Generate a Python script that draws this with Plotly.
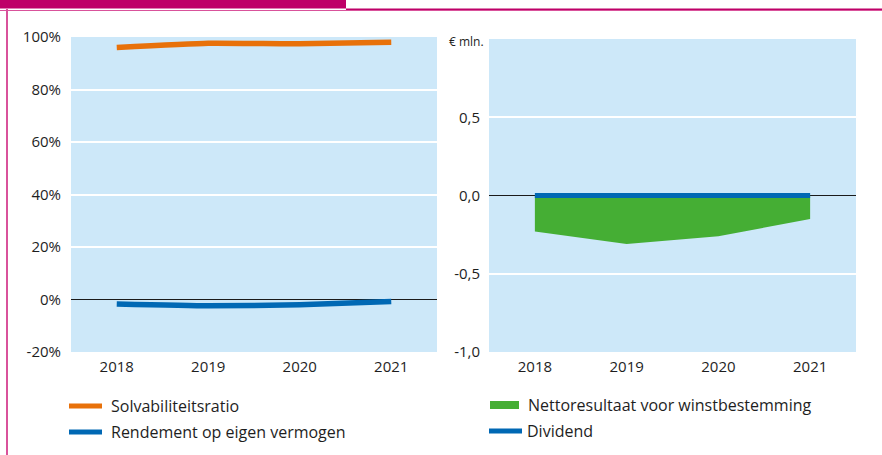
import plotly.graph_objects as go
from plotly.subplots import make_subplots

# Data
years = ["2018", "2019", "2020", "2021"]
solvabiliteit = [96.0, 97.6, 97.4, 98.0]          # %
rendement = [-1.7, -2.4, -2.0, -0.8]               # %
nettoresultaat = [-0.23, -0.31, -0.26, -0.15]      # € mln.
dividend = [0.0, 0.0, 0.0, 0.0]                    # € mln.

left_ticks = [-20, 0, 20, 40, 60, 80, 100]
left_ticktext = ["-20%", "0%", "20%", "40%", "60%", "80%", "100%"]
right_ticks = [-1.0, -0.5, 0.0, 0.5]
right_ticktext = ["-1,0", "-0,5", "0,0", "0,5"]

W, H = 882, 455
ORANGE = "#E8710A"
BLUE = "#0068B4"
GREEN = "#45AE34"
BG = "#CDE8F9"
MAGENTA = "#BE0068"
PINK = "#D9529B"
TXT = "#1E1E1E"
FONT = "Open Sans"


def px(x):
    return x / W


def py(y):
    return 1 - y / H


fig = make_subplots(rows=1, cols=2)

fig.add_trace(go.Scatter(x=years, y=solvabiliteit, mode="lines",
                         line=dict(color=ORANGE, width=5.5, shape="spline", smoothing=0.5),
                         name="Solvabiliteitsratio", showlegend=False), row=1, col=1)
fig.add_trace(go.Scatter(x=years, y=rendement, mode="lines",
                         line=dict(color=BLUE, width=5.5, shape="spline", smoothing=0.5),
                         name="Rendement op eigen vermogen", showlegend=False), row=1, col=1)

fig.add_trace(go.Scatter(x=years, y=nettoresultaat, mode="lines", fill="tozeroy",
                         fillcolor=GREEN, line=dict(color=GREEN, width=0),
                         name="Nettoresultaat voor winstbestemming", showlegend=False), row=1, col=2)
fig.add_trace(go.Scatter(x=years, y=dividend, mode="lines",
                         line=dict(color=BLUE, width=5),
                         name="Dividend", showlegend=False), row=1, col=2)

axis_common = dict(showline=False, ticks="outside", tickcolor="rgba(0,0,0,0)",
                   automargin=False, tickfont=dict(family=FONT, size=15, color=TXT))

fig.update_xaxes(type="category", range=[-0.5, 3.5], showgrid=False, zeroline=False,
                 ticklen=1, **axis_common)
fig.update_xaxes(domain=[px(71), px(437)], row=1, col=1)
fig.update_xaxes(domain=[px(489), px(856)], row=1, col=2)

fig.update_yaxes(range=[-20, 100], domain=[py(352), py(37)], tickvals=left_ticks,
                 ticktext=left_ticktext, gridcolor="white", gridwidth=1.5,
                 zeroline=True, zerolinecolor="#1a1a1a", zerolinewidth=1,
                 ticklen=6, row=1, col=1, **axis_common)
fig.update_yaxes(range=[-1, 1], domain=[py(352), py(39)], tickvals=right_ticks,
                 ticktext=right_ticktext, gridcolor="white", gridwidth=1.5,
                 zeroline=True, zerolinecolor="#1a1a1a", zerolinewidth=1,
                 ticklen=5, row=1, col=2, **axis_common)

shapes = [
    # header bar and frame
    dict(type="rect", xref="paper", yref="paper", x0=0, x1=px(346), y0=py(0), y1=py(8.5),
         fillcolor=MAGENTA, line_width=0, layer="above"),
    dict(type="line", xref="paper", yref="paper", x0=px(346), x1=1, y0=py(9.5), y1=py(9.5),
         line=dict(color=MAGENTA, width=2)),
    dict(type="line", xref="paper", yref="paper", x0=0, x1=1, y0=py(10.5), y1=py(10.5),
         line=dict(color=PINK, width=1)),
    dict(type="line", xref="paper", yref="paper", x0=px(7), x1=px(7), y0=py(9), y1=0,
         line=dict(color=PINK, width=2)),
    # legend swatches
    dict(type="line", xref="paper", yref="paper", x0=px(69), x1=px(102), y0=py(406), y1=py(406),
         line=dict(color=ORANGE, width=5)),
    dict(type="line", xref="paper", yref="paper", x0=px(69), x1=px(102), y0=py(432), y1=py(432),
         line=dict(color=BLUE, width=5)),
    dict(type="rect", xref="paper", yref="paper", x0=px(490), x1=px(519), y0=py(409), y1=py(401),
         fillcolor=GREEN, line_width=0),
    dict(type="line", xref="paper", yref="paper", x0=px(489), x1=px(522), y0=py(431), y1=py(431),
         line=dict(color=BLUE, width=5)),
]

legend_font = dict(family=FONT, size=16, color=TXT)
annotations = [
    dict(text="€ mln.", x=px(447), y=py(41), xref="paper", yref="paper", xanchor="left",
         yanchor="middle", showarrow=False, font=dict(family=FONT, size=12, color=TXT)),
    dict(text="Solvabiliteitsratio", x=px(109), y=py(406), xref="paper", yref="paper",
         xanchor="left", yanchor="middle", showarrow=False, font=legend_font),
    dict(text="Rendement op eigen vermogen", x=px(109), y=py(432), xref="paper", yref="paper",
         xanchor="left", yanchor="middle", showarrow=False, font=legend_font),
    dict(text="Nettoresultaat voor winstbestemming", x=px(526), y=py(405), xref="paper",
         yref="paper", xanchor="left", yanchor="middle", showarrow=False, font=legend_font),
    dict(text="Dividend", x=px(525), y=py(431), xref="paper", yref="paper",
         xanchor="left", yanchor="middle", showarrow=False, font=legend_font),
]

fig.update_layout(width=W, height=H, margin=dict(l=0, r=0, t=0, b=0),
                  paper_bgcolor="white", plot_bgcolor=BG, showlegend=False,
                  shapes=shapes, annotations=annotations)

# Place the figure flush with the page edges
page_js = ("document.body.style.margin='0';"
           "document.documentElement.style.overflow='hidden';")

fig.write_html("out.html", post_script=page_js)
